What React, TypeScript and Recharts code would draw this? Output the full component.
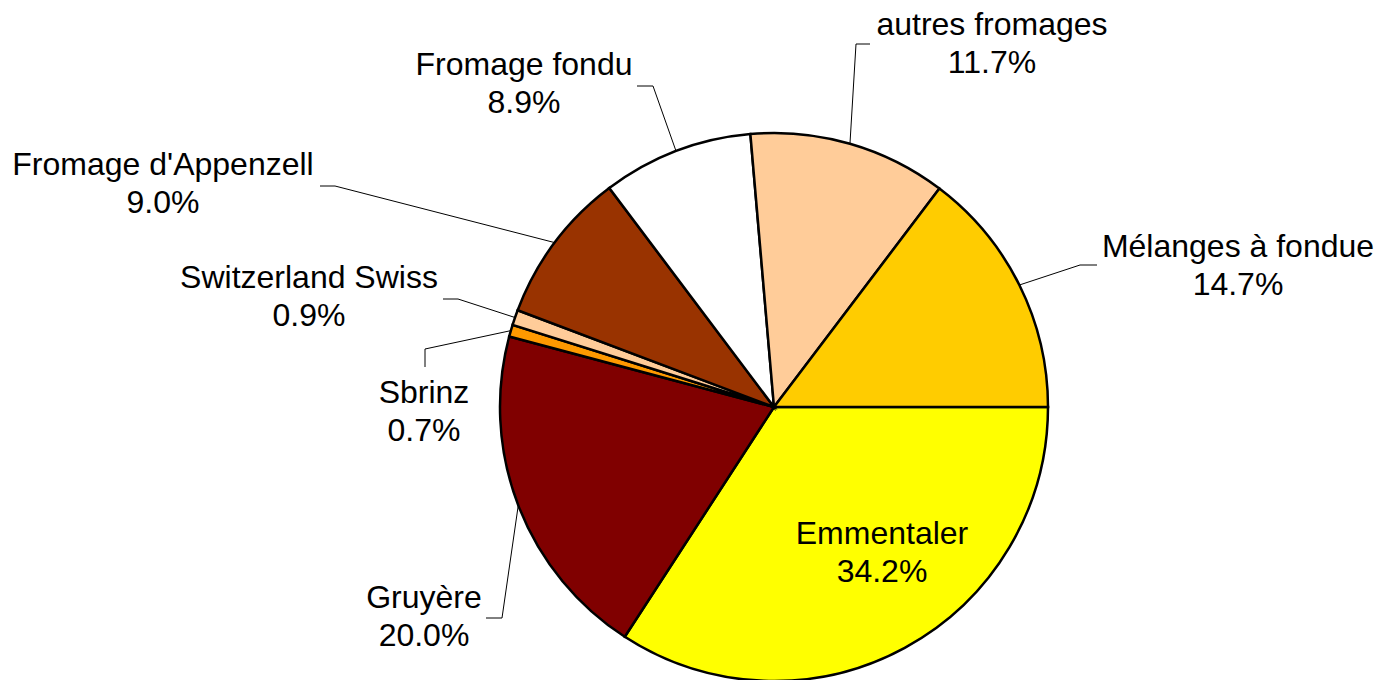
import { PieChart, Pie, Cell } from 'recharts';

const categories = [
  'Emmentaler',
  'Gruyère',
  'Sbrinz',
  'Switzerland Swiss',
  "Fromage d'Appenzell",
  'Fromage fondu',
  'autres fromages',
  'Mélanges à fondue',
];
const shares = [34.2, 20.0, 0.7, 0.9, 9.0, 8.9, 11.7, 14.7];
const colors = ['#ffff00', '#800000', '#ff9900', '#ffcc99', '#993300', '#ffffff', '#ffcc99', '#ffcc00'];

// label placement: text centre, first baseline, leader-line bend points
const labelLayout = [
  { x: 882, y: 544, bend: [] as number[][] },
  { x: 424, y: 608, bend: [[502, 618], [486, 618]] },
  { x: 424, y: 403, bend: [[425, 349], [425, 367]] },
  { x: 309, y: 288, bend: [[458, 299], [443, 299]] },
  { x: 163, y: 175, bend: [[335, 186], [320, 186]] },
  { x: 524, y: 75, bend: [[653, 86], [637, 86]] },
  { x: 992, y: 35, bend: [[856, 44], [870, 44]] },
  { x: 1238, y: 257, bend: [[1080, 265], [1097, 265]] },
];

const data = categories.map((name, i) => ({ name, value: shares[i] }));

const RAD = Math.PI / 180;
const FONT = '"Liberation Sans", Arial, sans-serif';

function renderLabel(props: any) {
  const { cx, cy, midAngle, outerRadius, index } = props;
  const lay = labelLayout[index];
  const sx = cx + Math.cos(-midAngle * RAD) * outerRadius;
  const sy = cy + Math.sin(-midAngle * RAD) * outerRadius;
  const pts = [[sx, sy], ...lay.bend].map((p) => p.join(',')).join(' ');
  return (
    <g key={`lbl-${index}`}>
      {lay.bend.length > 0 && <polyline points={pts} fill="none" stroke="#000" strokeWidth={1} />}
      <text x={lay.x} y={lay.y} textAnchor="middle" fontFamily={FONT} fontSize={32} fill="#000">
        {categories[index]}
      </text>
      <text x={lay.x} y={lay.y + 38} textAnchor="middle" fontFamily={FONT} fontSize={32} fill="#000">
        {shares[index].toFixed(1)}%
      </text>
    </g>
  );
}

export default function App() {
  return (
    <div style={{ position: 'absolute', left: 0, top: 0, width: 1382, height: 680, background: '#fff' }}>
      <PieChart width={1382} height={680} margin={{ top: 0, right: 0, bottom: 0, left: 0 }}>
        <Pie
          data={data}
          dataKey="value"
          nameKey="name"
          cx={774}
          cy={407}
          outerRadius={274}
          startAngle={0}
          endAngle={-360}
          stroke="#000"
          strokeWidth={2.5}
          label={renderLabel}
          labelLine={false}
          isAnimationActive={false}
        >
          {data.map((entry, index) => (
            <Cell key={`cell-${index}`} fill={colors[index]} />
          ))}
        </Pie>
      </PieChart>
    </div>
  );
}
